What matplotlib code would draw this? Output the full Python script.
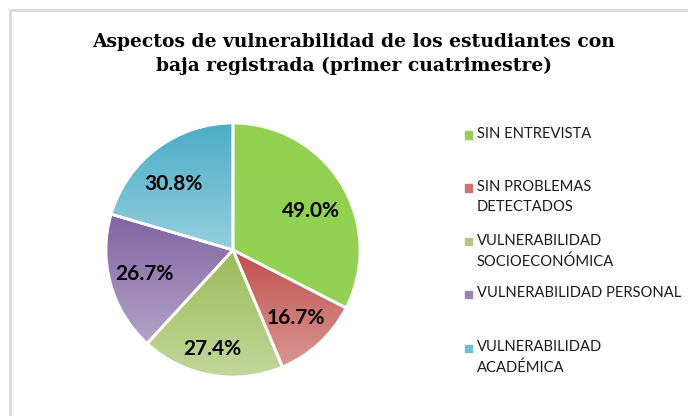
import numpy as np
import matplotlib
matplotlib.use("Agg")
import matplotlib.pyplot as plt
from matplotlib.colors import to_rgb
from matplotlib.patches import Rectangle

categories = ["SIN ENTREVISTA", "SIN PROBLEMAS\nDETECTADOS", "VULNERABILIDAD\nSOCIOECONÓMICA",
              "VULNERABILIDAD PERSONAL", "VULNERABILIDAD\nACADÉMICA"]
values = [49.0, 16.7, 27.4, 26.7, 30.8]
top_colors = ["#92D050", "#C0504D", "#9BBB59", "#8064A2", "#4BACC6"]
bottom_colors = ["#94D254", "#DA9694", "#C4D79B", "#B3A2C7", "#95CFDE"]

title = "Aspectos de vulnerabilidad de los estudiantes con\nbaja registrada (primer cuatrimestre)"

W, H = 688, 416
fig = plt.figure(figsize=(W / 100, H / 100), dpi=100)
fig.patch.set_facecolor("white")

# light frame around the chart area (right and bottom edges fall off the canvas)
fig.patches.append(Rectangle((9.5 / W, -0.2), 1.5, 1.2 - 10 / H, transform=fig.transFigure,
                             fill=False, edgecolor="#D9D9D9", linewidth=2))

cx, cy, r = 233, 250, 127
ax = fig.add_axes([(cx - r) / W, (H - cy - r) / H, 2 * r / W, 2 * r / H])
ax.axis("off")

total = sum(values)
wedges, texts, autotexts = ax.pie(
    values, startangle=90, counterclock=False, colors=top_colors,
    autopct=lambda p: f"{p * total / 100:.1f}%", pctdistance=0.72,
    textprops=dict(family="Lato", fontweight="bold", fontsize=15, color="black"))

# pull each percentage label a little in or out along its slice
label_dist = [0.69, 0.73, 0.80, 0.72, 0.70]
label_shift = [-5, 0, -2, 0, 5]
for w, t_, d, s in zip(wedges, autotexts, label_dist, label_shift):
    ang = np.deg2rad((w.theta1 + w.theta2) / 2 + s)
    t_.set_position((d * np.cos(ang), d * np.sin(ang)))

# vertical gradient fill inside each slice
for w, c0, c1 in zip(wedges, top_colors, bottom_colors):
    ext = w.get_path().get_extents()
    a, b = np.array(to_rgb(c0)), np.array(to_rgb(c1))
    t = np.linspace(0, 1, 256)[:, None]
    grad = (a * (1 - t) + b * t)[:, None, :]
    im = ax.imshow(grad, extent=[ext.x0, ext.x1, ext.y0, ext.y1], origin="upper",
                   aspect="auto", zorder=1.5, interpolation="bilinear")
    im.set_clip_path(w)

edges, _ = ax.pie(values, startangle=90, counterclock=False,
                  wedgeprops=dict(fill=False, edgecolor="white", linewidth=2))
for e in edges:
    e.set_zorder(3)
for t_ in autotexts:
    t_.set_zorder(4)

ax.set_xlim(-1, 1)
ax.set_ylim(-1, 1)

fig.text(354 / W, 1 - 54 / H, title, ha="center", va="center", family="DejaVu Serif",
         fontweight="bold", fontsize=13.5, linespacing=1.4, color="black")

# legend
leg_y = [135, 188, 242, 294, 348]
for lab, y, c0, c1 in zip(categories, leg_y, top_colors, bottom_colors):
    mid = (np.array(to_rgb(c0)) + np.array(to_rgb(c1))) / 2
    fig.patches.append(Rectangle((465 / W, 1 - (y + 3.5) / H), 7 / W, 7 / H,
                                 transform=fig.transFigure, color=mid))
    fig.text(477 / W, 1 - (y - 8) / H, lab, ha="left", va="top", family="Lato",
             fontsize=10.6, color="#1a1a1a", linespacing=1.55)

fig.savefig("out.png", dpi=100)
